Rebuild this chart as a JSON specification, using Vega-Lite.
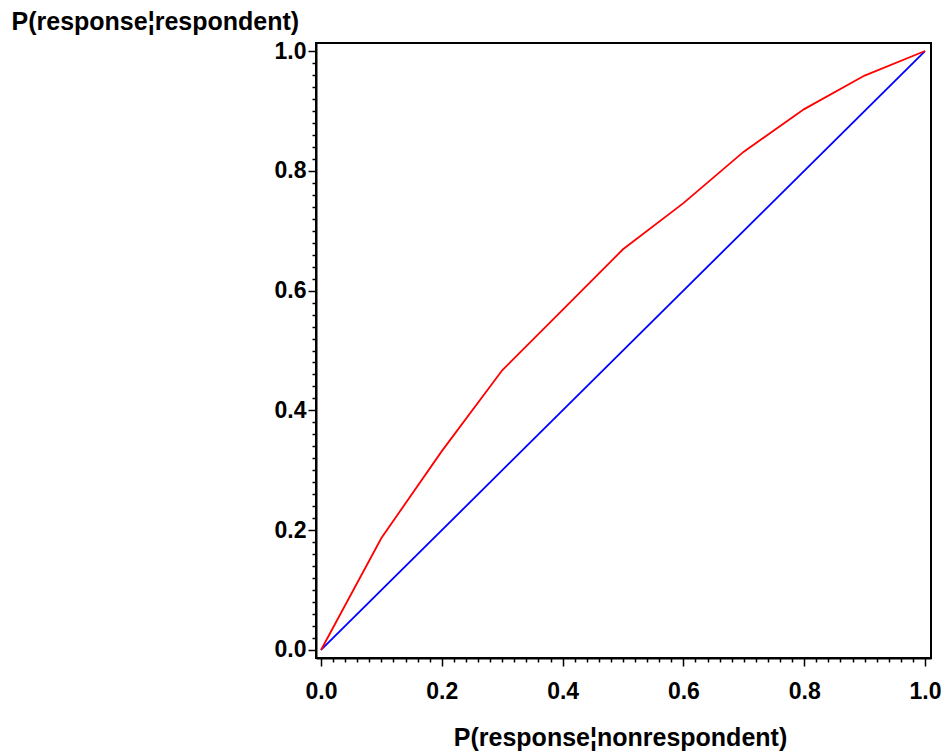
{
  "$schema": "https://vega.github.io/schema/vega-lite/v6.json",
  "width": 615,
  "height": 615,
  "autosize": {"type": "none"},
  "padding": {"left": 316, "top": 43, "right": 10, "bottom": 94},
  "background": "white",
  "config": {
    "view": {"stroke": "black", "strokeWidth": 2},
    "font": "Liberation Sans"
  },
  "data": {
    "values": [
      {"x": 0, "y": 0, "series": "diag"},
      {"x": 1, "y": 1, "series": "diag"},
      {"x": 0, "y": 0, "series": "curve"},
      {"x": 0.1, "y": 0.187, "series": "curve"},
      {"x": 0.2, "y": 0.332, "series": "curve"},
      {"x": 0.3, "y": 0.467, "series": "curve"},
      {"x": 0.4, "y": 0.568, "series": "curve"},
      {"x": 0.5, "y": 0.669, "series": "curve"},
      {"x": 0.6, "y": 0.746, "series": "curve"},
      {"x": 0.7, "y": 0.832, "series": "curve"},
      {"x": 0.8, "y": 0.903, "series": "curve"},
      {"x": 0.9, "y": 0.959, "series": "curve"},
      {"x": 1.0, "y": 1.0, "series": "curve"}
    ]
  },
  "mark": {"type": "line", "strokeWidth": 1.8},
  "encoding": {
    "x": {
      "field": "x",
      "type": "quantitative",
      "scale": {"domain": [-0.0083, 1.0099], "nice": false, "zero": false},
      "axis": {
        "title": "P(response¦nonrespondent)",
        "titleFont": "Liberation Sans",
        "titleFontSize": 25,
        "titleFontWeight": "bold",
        "titleColor": "black",
        "titleX": 304,
        "titleY": 87,
        "titleAlign": "center",
        "titleBaseline": "alphabetic",
        "values": [0,0.02,0.04,0.06,0.08,0.1,0.12,0.14,0.16,0.18,0.2,0.22,0.24,0.26,0.28,0.3,0.32,0.34,0.36,0.38,0.4,0.42,0.44,0.46,0.48,0.5,0.52,0.54,0.56,0.58,0.6,0.62,0.64,0.66,0.68,0.7,0.72,0.74,0.76,0.78,0.8,0.82,0.84,0.86,0.88,0.9,0.92,0.94,0.96,0.98,1.0],
        "labelExpr": "abs(datum.value*5 - round(datum.value*5)) < 0.001 ? format(datum.value, '.1f') : ''",
        "labelOverlap": false,
        "labelFlush": false,
        "labelBound": false,
        "labelFont": "Liberation Sans",
        "labelFontSize": 23,
        "labelFontWeight": "bold",
        "labelColor": "black",
        "labelBaseline": "alphabetic",
        "labelPadding": 32,
        "grid": false,
        "domainColor": "black",
        "domainWidth": 2,
        "tickColor": "black",
        "tickWidth": 1.5,
        "tickSize": {"condition": {"test": "abs(datum.value*5 - round(datum.value*5)) < 0.001", "value": 8}, "value": 4}
      }
    },
    "y": {
      "field": "y",
      "type": "quantitative",
      "scale": {"domain": [-0.0134, 1.0134], "nice": false, "zero": false},
      "axis": {
        "title": "P(response¦respondent)",
        "titleFont": "Liberation Sans",
        "titleFontSize": 25,
        "titleFontWeight": "bold",
        "titleColor": "black",
        "titleAngle": 0,
        "titleX": -305,
        "titleY": -14,
        "titleAlign": "left",
        "titleBaseline": "alphabetic",
        "values": [0,0.02,0.04,0.06,0.08,0.1,0.12,0.14,0.16,0.18,0.2,0.22,0.24,0.26,0.28,0.3,0.32,0.34,0.36,0.38,0.4,0.42,0.44,0.46,0.48,0.5,0.52,0.54,0.56,0.58,0.6,0.62,0.64,0.66,0.68,0.7,0.72,0.74,0.76,0.78,0.8,0.82,0.84,0.86,0.88,0.9,0.92,0.94,0.96,0.98,1.0],
        "labelExpr": "abs(datum.value*5 - round(datum.value*5)) < 0.001 ? format(datum.value, '.1f') : ''",
        "labelOverlap": false,
        "labelFlush": false,
        "labelBound": false,
        "labelFont": "Liberation Sans",
        "labelFontSize": 23,
        "labelFontWeight": "bold",
        "labelColor": "black",
        "labelPadding": 2,
        "grid": false,
        "domainColor": "black",
        "domainWidth": 2,
        "tickColor": "black",
        "tickWidth": 1.5,
        "tickSize": {"condition": {"test": "abs(datum.value*5 - round(datum.value*5)) < 0.001", "value": 8}, "value": 4}
      }
    },
    "color": {
      "field": "series",
      "type": "nominal",
      "scale": {"domain": ["curve", "diag"], "range": ["#FF0000", "#0000FF"]},
      "legend": null
    }
  }
}
